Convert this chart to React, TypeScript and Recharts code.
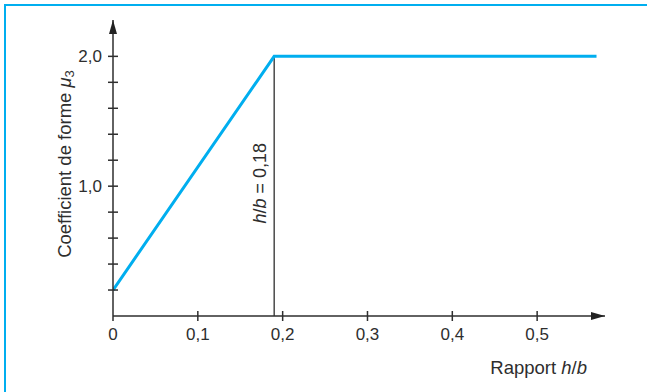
import React from 'react';
import { LineChart, Line, XAxis, YAxis, ReferenceLine, ReferenceDot } from 'recharts';

// courbe μ3 en fonction de h/b
const ratioHB = [0, 0.19, 0.57];
const mu3 = [0.2, 2.0, 2.0];
const xTicks = [0, 0.1, 0.2, 0.3, 0.4, 0.5];
const yTicks = [0.2, 0.4, 0.6, 0.8, 1.0, 1.2, 1.4, 1.6, 1.8, 2.0];
const yLabelled = [1.0, 2.0];
const seuil = 0.19;
const seuilTexte = '0,18';
const xMax = 0.58;
const yMax = 2.28;

const data = ratioHB.map((x, i) => ({ x, y: mu3[i] }));

const INK = '#2e2e2e';
const BLUE = '#00aeef';
const FONT = '"Liberation Sans", Arial, sans-serif';

const fmt = (v: number) => (v === 0 ? '0' : v.toFixed(1).replace('.', ','));

const XTick = (props: any) => {
  const { x, y, payload } = props;
  return (
    <g>
      <line x1={x} x2={x} y1={payload.value === 0 ? y : y - 5} y2={y + 5} stroke={INK} strokeWidth={1.5} />
      <text x={x} y={y + 24} textAnchor="middle" fontSize={17} fill={INK} fontFamily={FONT}>
        {fmt(payload.value)}
      </text>
    </g>
  );
};

const YTick = (props: any) => {
  const { x, y, payload } = props;
  const show = yLabelled.some((v) => Math.abs(v - payload.value) < 1e-6);
  return (
    <g>
      <line x1={x - 5} x2={x + 5} y1={y} y2={y} stroke={INK} strokeWidth={1.5} />
      {show && (
        <text x={x - 11} y={y + 6} textAnchor="end" fontSize={17} fill={INK} fontFamily={FONT}>
          {fmt(payload.value)}
        </text>
      )}
    </g>
  );
};

const ArrowUp = (props: any) => {
  const { cx, cy } = props;
  return <path d={`M${cx},${cy} L${cx - 4},${cy + 14} L${cx + 4},${cy + 14} Z`} fill="#222" />;
};

const ArrowRight = (props: any) => {
  const { cx, cy } = props;
  return <path d={`M${cx},${cy} L${cx - 14},${cy - 4} L${cx - 14},${cy + 4} Z`} fill="#222" />;
};

const YLabel = (props: any) => {
  const vb = props.viewBox;
  const cx = vb.x + 18;
  const cy = 164;
  return (
    <text
      x={cx}
      y={cy}
      transform={`rotate(-90 ${cx} ${cy})`}
      textAnchor="middle"
      fontSize={18.5}
      fill={INK}
      fontFamily={FONT}
    >
      Coefficient de forme <tspan fontStyle="italic">μ</tspan>
      <tspan fontSize={13} dy={3}>3</tspan>
    </text>
  );
};

const XLabel = (props: any) => {
  const vb = props.viewBox;
  return (
    <text x={vb.x + vb.width - 18} y={vb.y + 58} textAnchor="end" fontSize={18.5} fill={INK} fontFamily={FONT}>
      Rapport <tspan fontStyle="italic">h</tspan>/<tspan fontStyle="italic">b</tspan>
    </text>
  );
};

const SeuilLabel = (props: any) => {
  const vb = props.viewBox;
  const cx = vb.x - 8;
  const cy = vb.y + vb.height / 2 - 3;
  return (
    <text
      x={cx}
      y={cy}
      transform={`rotate(-90 ${cx} ${cy})`}
      textAnchor="middle"
      fontSize={18}
      fill={INK}
      fontFamily={FONT}
    >
      <tspan fontStyle="italic">h</tspan>/<tspan fontStyle="italic">b</tspan> = {seuilTexte}
    </text>
  );
};

const App: React.FC = () => {
  return (
    <div style={{ position: 'absolute', left: 0, top: 0, width: 647, height: 392, background: '#fff' }}>
      <div
        style={{
          position: 'absolute',
          left: 4,
          top: 4,
          right: 0,
          bottom: 0,
          borderLeft: `2px solid ${BLUE}`,
          borderTop: `2px solid ${BLUE}`,
        }}
      />
      <div style={{ position: 'absolute', left: 0, top: 0 }}>
        <LineChart width={647} height={392} data={data} margin={{ top: 20, right: 42, bottom: 46, left: 53 }}>
          <XAxis
            dataKey="x"
            type="number"
            domain={[0, xMax]}
            ticks={xTicks}
            interval={0}
            tickSize={0}
            tickMargin={0}
            tickLine={false}
            tick={<XTick />}
            height={30}
            axisLine={{ stroke: INK, strokeWidth: 1.5 }}
            allowDataOverflow
            label={<XLabel />}
          />
          <YAxis
            type="number"
            domain={[0, yMax]}
            ticks={yTicks}
            interval={0}
            tickSize={0}
            tickMargin={0}
            tickLine={false}
            tick={<YTick />}
            width={60}
            axisLine={{ stroke: INK, strokeWidth: 1.5 }}
            allowDataOverflow
            label={<YLabel />}
          />
          <ReferenceLine
            segment={[
              { x: seuil, y: 0 },
              { x: seuil, y: 2.0 },
            ]}
            stroke={INK}
            strokeWidth={1.3}
            label={<SeuilLabel />}
          />
          <Line
            type="linear"
            dataKey="y"
            stroke={BLUE}
            strokeWidth={3}
            dot={false}
            isAnimationActive={false}
          />
          <ReferenceDot x={0} y={yMax} r={0} ifOverflow="visible" shape={<ArrowUp />} />
          <ReferenceDot x={xMax} y={0} r={0} ifOverflow="visible" shape={<ArrowRight />} />
        </LineChart>
      </div>
    </div>
  );
};

export default App;
